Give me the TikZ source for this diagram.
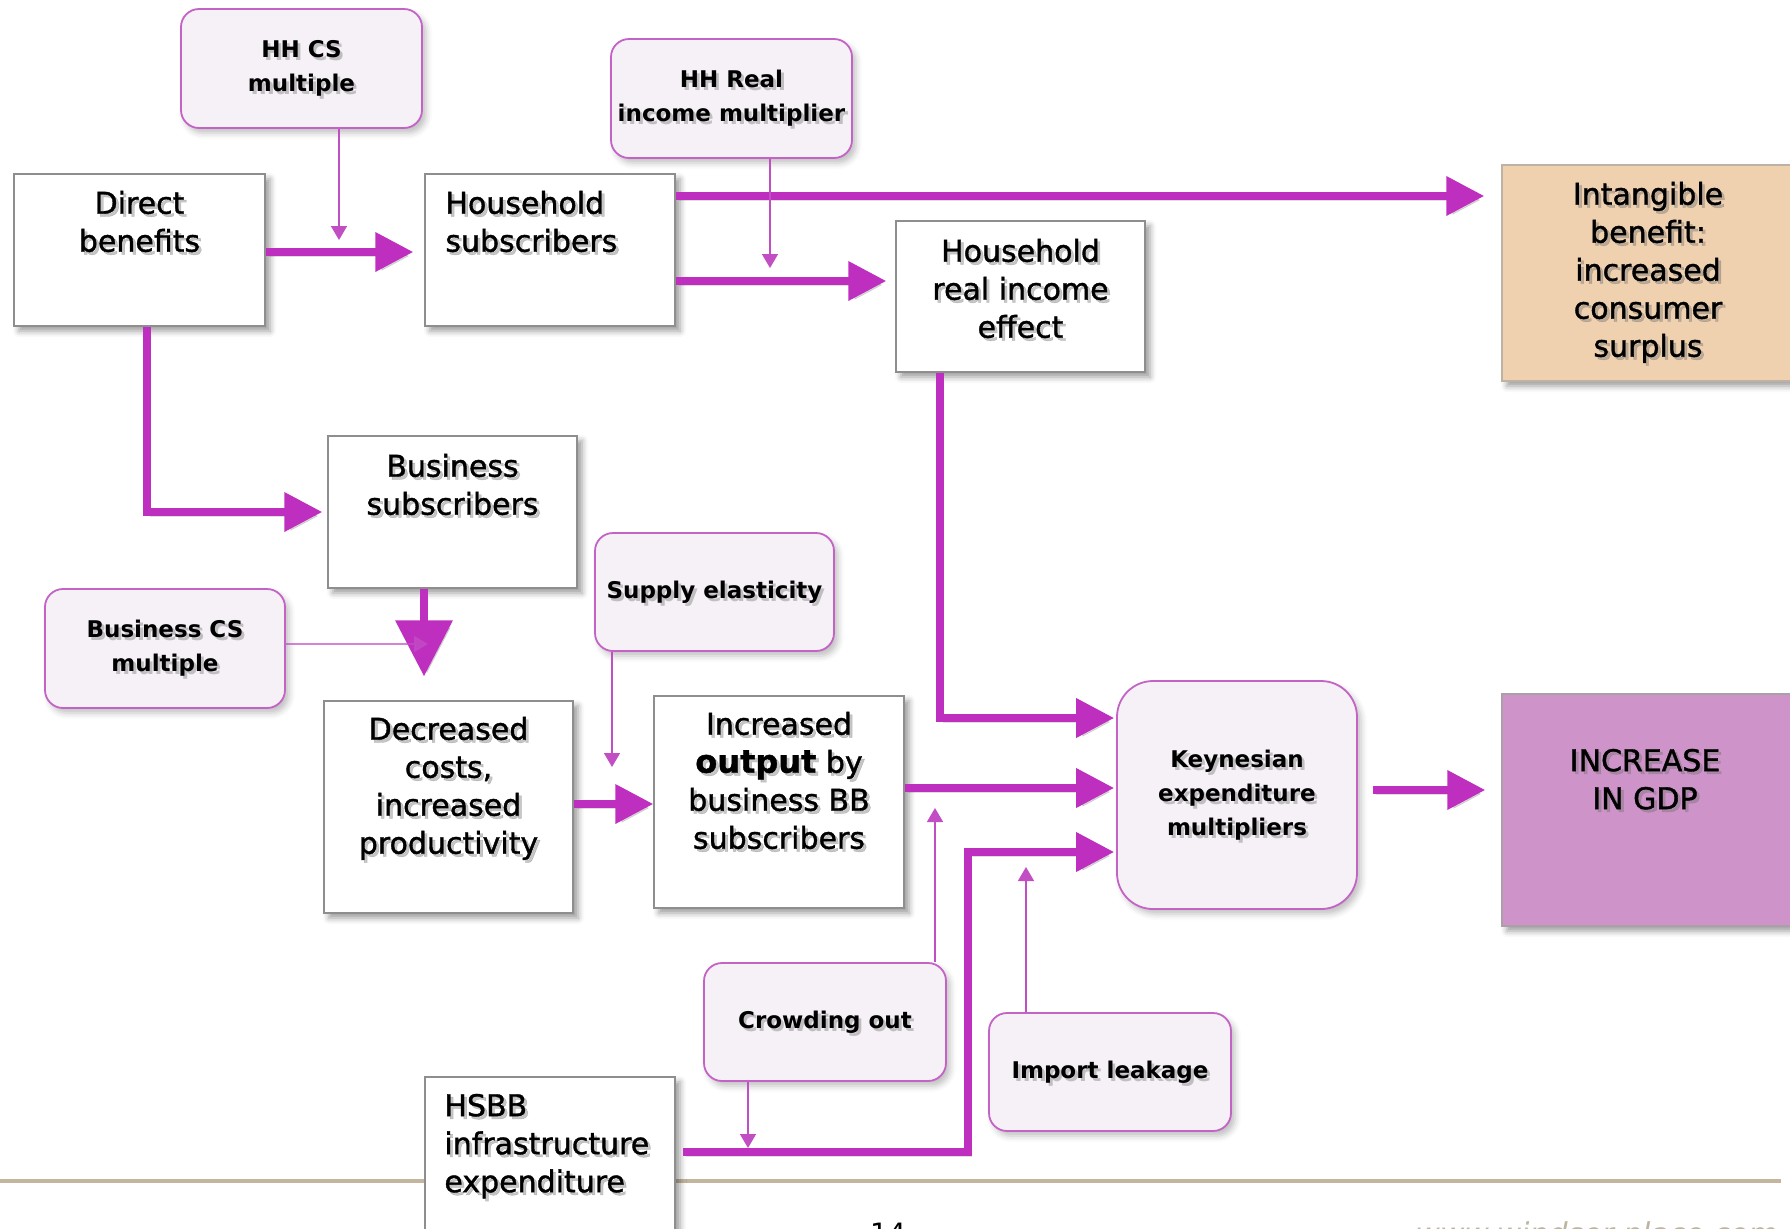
\documentclass[tikz,border=0pt]{standalone}
\usepackage{fontspec}
\setmainfont{DejaVu Sans}
\newfontfamily\heavyfont[FakeBold=1.2]{DejaVu Sans}
\usetikzlibrary{arrows.meta,shadows.blur}

\definecolor{flow}{HTML}{BF2FBF}
\definecolor{flowthin}{HTML}{C24EC4}
\definecolor{softfill}{HTML}{F6F0F7}
\definecolor{softline}{HTML}{C463C6}
\definecolor{boxline}{HTML}{8E8E8E}
\definecolor{peach}{HTML}{EFD0AF}
\definecolor{peachline}{HTML}{BDB2A4}
\definecolor{gdpfill}{HTML}{CE93C9}
\definecolor{gdpline}{HTML}{A9A0A8}
\definecolor{rulecol}{HTML}{C3B69D}
\definecolor{urlcol}{HTML}{BDB39E}

% text with a soft grey copy underneath it
\newcommand\shadedtext[3]{%
  \node[#2, text=black!55, opacity=0.4, xshift=1.4pt, yshift=-1.4pt] {#3};
  \node[#2] (#1) {#3};
}

\begin{document}
\begin{tikzpicture}[x=0.5pt, y=-0.5pt,
  every node/.style={inner sep=0pt},
  plainbox/.style={draw=boxline, line width=0.75pt, fill=white,
    blur shadow={shadow xshift=2.5pt, shadow yshift=-2.5pt, shadow blur radius=3pt, shadow opacity=40}},
  softbox/.style={draw=softline, line width=0.9pt, fill=softfill, rounded corners=9pt,
    blur shadow={shadow xshift=2pt, shadow yshift=-2.5pt, shadow blur radius=3pt, shadow opacity=25}},
  maintext/.style={font=\heavyfont\fontsize{15pt}{19pt}\selectfont, align=center, anchor=north},
  softtext/.style={font=\bfseries\fontsize{11.5pt}{17pt}\selectfont, align=center},
  flowarrow/.style={draw=flow, line width=3.6pt, line join=miter,
    -{Triangle[length=19pt,width=19pt]},
    preaction={draw=black, opacity=0.13, transform canvas={xshift=1.5pt, yshift=-2pt}}},
  bigflow/.style={draw=flow, line width=3.6pt, -{Triangle[length=28pt,width=28pt]},
    preaction={draw=black, opacity=0.13, transform canvas={xshift=1.5pt, yshift=-2pt}}},
  thinarrow/.style={draw=flowthin, line width=0.8pt, -{Triangle[length=7pt,width=8pt]}},
]
\useasboundingbox (0,0) rectangle (1790,1228);
\clip (0,0) rectangle (1790,1228);

% footer rule
\draw[rulecol, line width=2pt] (0,1181) -- (1781,1181);

% plain boxes
\node[plainbox, minimum width=125.5pt, minimum height=76pt] (direct) at (139.5,250) {};
\node[plainbox, minimum width=125pt, minimum height=76pt] (hhsub) at (550,250) {};
\node[plainbox, minimum width=124.5pt, minimum height=75.5pt] (hhrie) at (1020.5,296.5) {};
\node[plainbox, minimum width=124.5pt, minimum height=76pt] (bussub) at (452.5,512) {};
\node[plainbox, minimum width=124.5pt, minimum height=106pt] (decr) at (448.5,807) {};
\node[plainbox, minimum width=125pt, minimum height=106pt] (incr) at (779,802) {};
\node[plainbox, minimum width=125pt, minimum height=106.5pt] (hsbb) at (550,1183.5) {};
\node[plainbox, draw=peachline, fill=peach, minimum width=146pt, minimum height=108pt] (intang) at (1648,273) {};
\node[plainbox, draw=gdpline, fill=gdpfill, minimum width=146pt, minimum height=116pt] (gdp) at (1648,810) {};

% rounded factor boxes
\node[softbox, minimum width=120.5pt, minimum height=59.5pt] (hhcs) at (301.5,68.5) {};
\node[softbox, minimum width=120.5pt, minimum height=59.5pt] (hhreal) at (731.5,98.5) {};
\node[softbox, minimum width=120pt, minimum height=59.5pt] (buscs) at (165,648.5) {};
\node[softbox, minimum width=119.5pt, minimum height=59pt] (supply) at (714.5,592) {};
\node[softbox, minimum width=121pt, minimum height=59pt] (crowd) at (825,1022) {};
\node[softbox, minimum width=121pt, minimum height=59pt] (import) at (1110,1072) {};
\node[softbox, rounded corners=18pt, minimum width=120pt, minimum height=114pt] (keyn) at (1237,795) {};

% free ends of the thin arrows
\coordinate (hhcs-tip) at (339,240);
\coordinate (hhreal-tip) at (770,268);
\coordinate (buscs-tip) at (428,644);
\coordinate (supply-tip) at (612,767);
\coordinate (crowd-up) at (935,808);
\coordinate (crowd-down) at (748,1148);
\coordinate (import-tip) at (1026,867);

% main flows
\draw[flowarrow, shorten >=5.5pt] (direct.east |- 0,252) -- (hhsub.west |- 0,252);
\draw[flowarrow, shorten >=8.5pt] (hhsub.east |- 0,196) -- (intang.west |- 0,196);
\draw[flowarrow, shorten >=4.5pt] (hhsub.east |- 0,281) -- (hhrie.west |- 0,281);
\draw[flowarrow, shorten >=2.5pt] (direct.south -| 147,0) |- (bussub.west |- 0,512);
\draw[bigflow, shorten >=12pt] (bussub.south -| 424,0) -- (decr.north -| 424,0);
\draw[flowarrow] (decr.east |- 0,804) -- (incr.west |- 0,804);
\draw[flowarrow, shorten >=1pt] (hhrie.south -| 940,0) |- (keyn.west |- 0,718);
\draw[flowarrow, shorten >=1pt] (incr.east |- 0,788) -- (keyn.west |- 0,788);
\draw[flowarrow, shorten >=1pt, shorten <=3.5pt] (hsbb.east |- 0,1152) -| (968,852) -- (keyn.west |- 0,852);
\draw[flowarrow, shorten <=7.5pt, shorten >=8pt] (keyn.east |- 0,790) -- (gdp.west |- 0,790);

% modifying factors
\draw[thinarrow] (hhcs.south -| hhcs-tip) -- (hhcs-tip);
\draw[thinarrow] (hhreal.south -| hhreal-tip) -- (hhreal-tip);
\draw[thinarrow, opacity=0.7] (buscs.east |- buscs-tip) -- (buscs-tip);
\draw[thinarrow] (supply.south -| supply-tip) -- (supply-tip);
\draw[thinarrow] (crowd.north -| crowd-up) -- (crowd-up);
\draw[thinarrow] (crowd.south -| crowd-down) -- (crowd-down);
\draw[thinarrow] (import.north -| import-tip) -- (import-tip);

% box texts
\shadedtext{direct-t}{maintext, at={(139.5,190.5)}}{Direct\\benefits}
\shadedtext{hhsub-t}{maintext, anchor=north west, align=left, at={(445,190.5)}}{Household\\subscribers}
\shadedtext{hhrie-t}{maintext, at={(1020.5,238.5)}}{Household\\real income\\effect}
\shadedtext{intang-t}{maintext, at={(1648,181.5)}}{Intangible\\benefit:\\increased\\consumer\\surplus}
\shadedtext{bussub-t}{maintext, at={(452.5,453.5)}}{Business\\subscribers}
\shadedtext{decr-t}{maintext, at={(448.5,716.5)}}{Decreased\\costs,\\increased\\productivity}
\shadedtext{incr-t}{maintext, at={(779,711.5)}}{Increased\\{\bfseries\fontsize{16pt}{19pt}\selectfont output} by\\business BB\\subscribers}
\shadedtext{hsbb-t}{maintext, anchor=north west, align=left, at={(444,1093.5)}}{HSBB\\infrastructure\\expenditure}
\shadedtext{gdp-t}{maintext, at={(1645,748.5)}}{INCREASE\\IN GDP}

\shadedtext{hhcs-t}{softtext, at={(hhcs.center)}}{HH CS\\multiple}
\shadedtext{hhreal-t}{softtext, at={(hhreal.center)}}{HH Real\\income multiplier}
\shadedtext{buscs-t}{softtext, at={(buscs.center)}}{Business CS\\multiple}
\shadedtext{supply-t}{softtext, at={(supply.center)}}{Supply elasticity}
\shadedtext{crowd-t}{softtext, at={(crowd.center)}}{Crowding out}
\shadedtext{import-t}{softtext, at={(import.center)}}{Import leakage}
\shadedtext{keyn-t}{softtext, at={(keyn.center)}}{Keynesian\\expenditure\\multipliers}

% footer
\node[anchor=base, font=\fontsize{14pt}{16pt}\selectfont] (pagenum) at (888,1243) {14};
\node[anchor=base west, font=\itshape\fontsize{15pt}{17pt}\selectfont, text=urlcol] (url) at (1415,1244) {www.windsor-place.com};
\end{tikzpicture}
\end{document}
